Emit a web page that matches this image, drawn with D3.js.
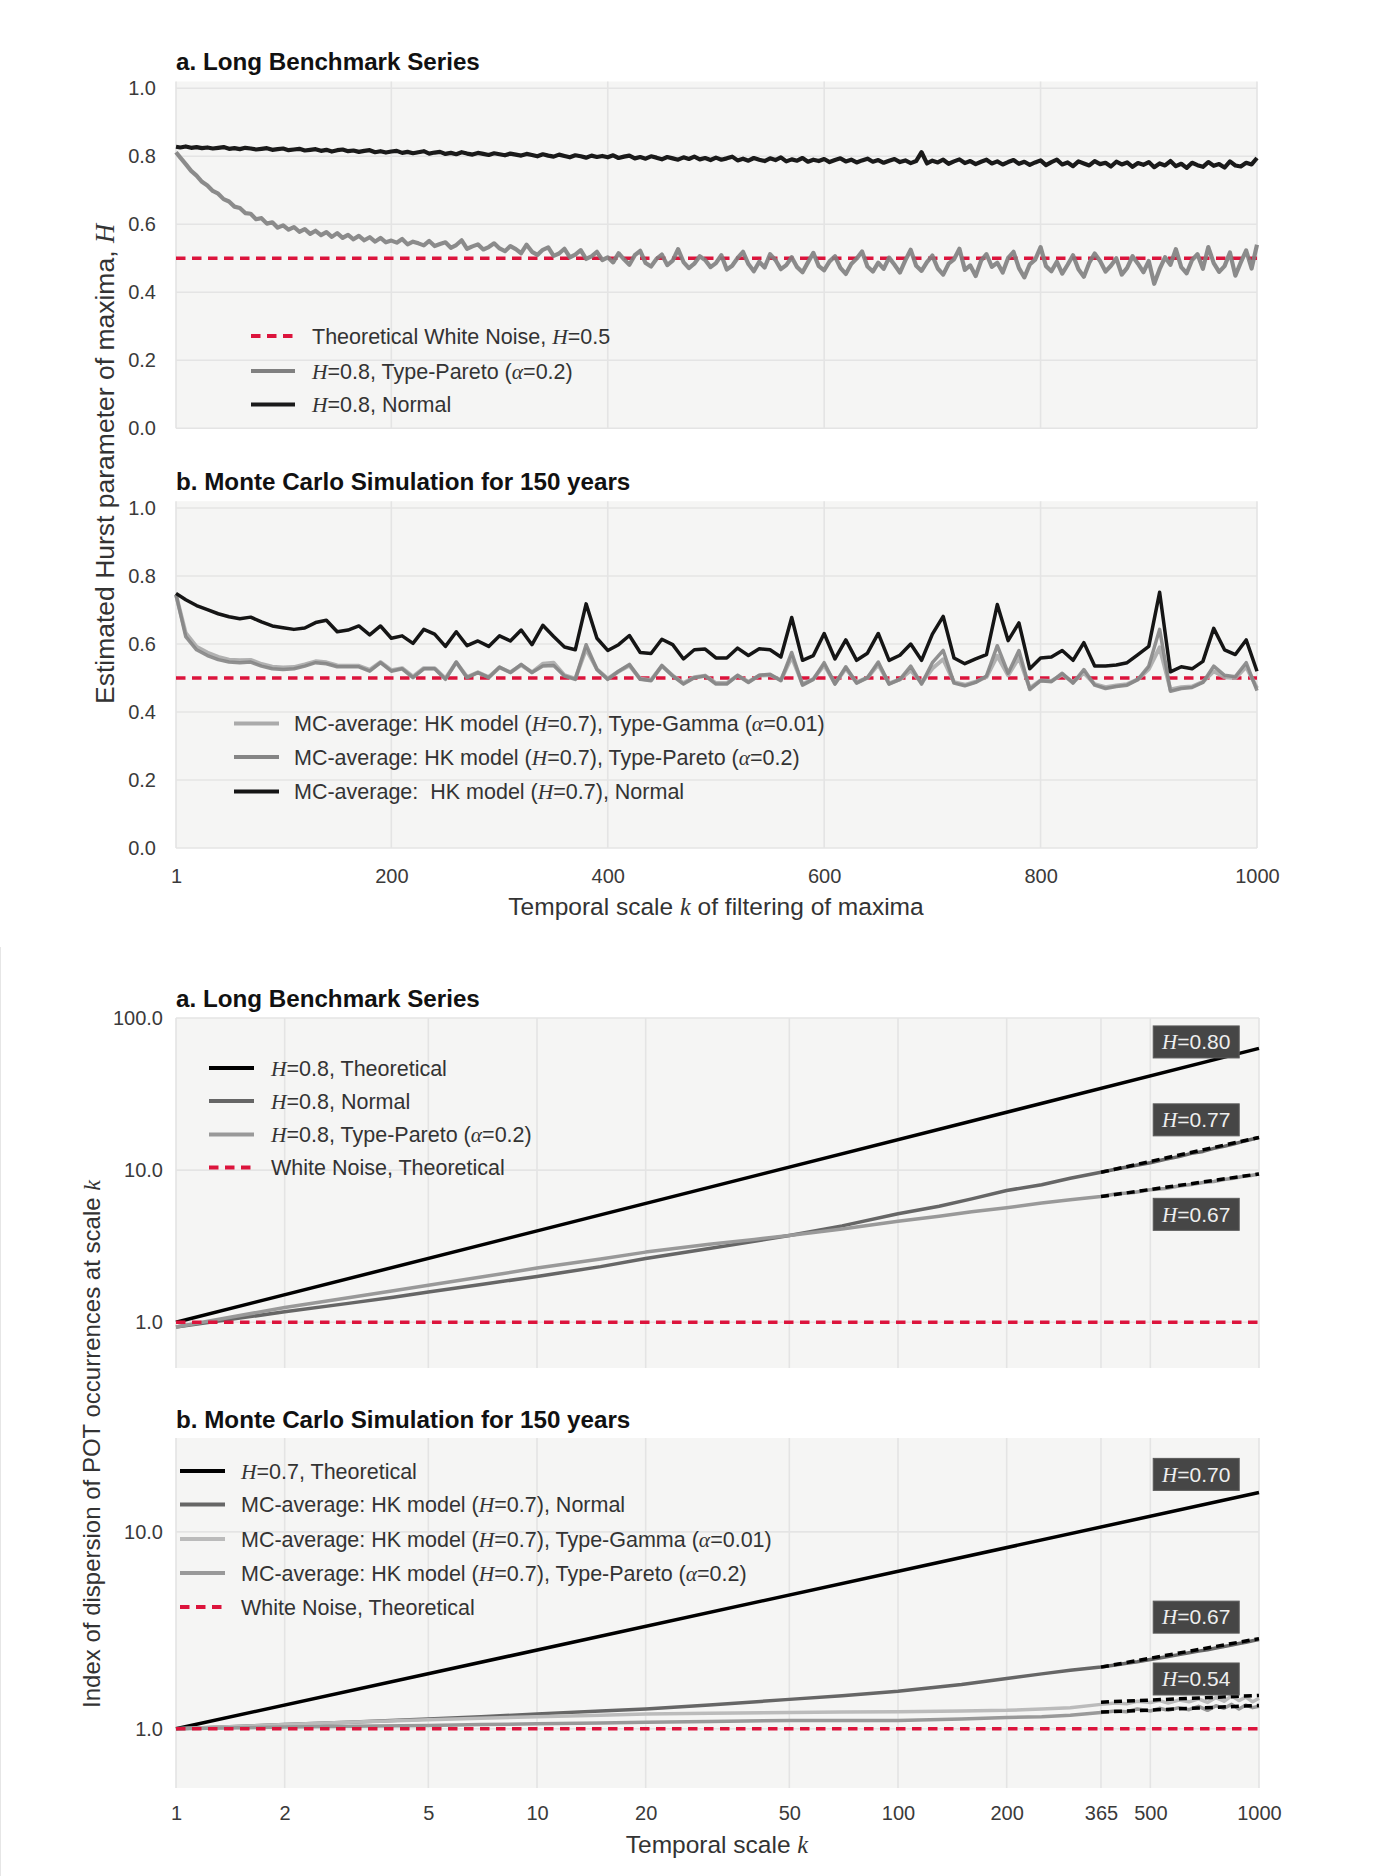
<!DOCTYPE html>
<html>
<head>
<meta charset="utf-8">
<script src="https://cdn.jsdelivr.net/npm/d3@7"></script>
<style>
  body { margin: 0; background: #ffffff; }
  text { font-family: "Liberation Sans", Arial, sans-serif; }
  .it { font-family: "Liberation Serif", "DejaVu Serif", serif; font-style: italic; }
</style>
</head>
<body>
<svg id="fig" width="1395" height="1876"></svg>
<script>
// ---------- Figure 1a: Hurst parameter of maxima, long benchmark series ----------
const kTopA = [1].concat(d3.range(5, 1001, 5));
const normalTopA = [
  0.828,0.826,0.829,0.825,0.827,0.824,0.826,0.823,0.825,0.827,0.822,0.824,0.821,0.825,0.823,0.820,0.822,0.824,0.819,0.821,
  0.823,0.818,0.820,0.822,0.817,0.819,0.821,0.816,0.819,0.814,0.818,0.820,0.815,0.817,0.813,0.816,0.818,0.812,0.815,0.811,
  0.814,0.816,0.810,0.813,0.809,0.812,0.815,0.808,0.811,0.813,0.807,0.810,0.806,0.812,0.808,0.805,0.810,0.807,0.804,0.809,
  0.806,0.803,0.808,0.805,0.802,0.807,0.804,0.800,0.806,0.802,0.799,0.805,0.801,0.797,0.803,0.800,0.796,0.802,0.798,0.801,
  0.797,0.803,0.795,0.799,0.802,0.794,0.798,0.793,0.800,0.796,0.791,0.798,0.794,0.790,0.797,0.792,0.799,0.791,0.795,0.789,
  0.796,0.790,0.794,0.799,0.788,0.793,0.787,0.795,0.790,0.786,0.794,0.789,0.797,0.785,0.791,0.787,0.795,0.784,0.790,0.786,
  0.792,0.783,0.789,0.794,0.785,0.790,0.782,0.788,0.793,0.784,0.789,0.781,0.787,0.792,0.783,0.788,0.780,0.786,0.812,0.779,
  0.787,0.782,0.790,0.778,0.785,0.791,0.780,0.786,0.777,0.784,0.790,0.779,0.785,0.776,0.783,0.789,0.778,0.784,0.775,0.782,
  0.788,0.774,0.783,0.790,0.776,0.782,0.771,0.785,0.779,0.773,0.786,0.777,0.781,0.770,0.784,0.776,0.782,0.769,0.780,0.775,
  0.783,0.768,0.779,0.773,0.786,0.771,0.778,0.766,0.781,0.774,0.769,0.783,0.772,0.777,0.767,0.785,0.773,0.770,0.781,0.776,
  0.795
];
const paretoTopA = [
  0.812,0.796,0.777,0.757,0.743,0.725,0.714,0.698,0.690,0.674,0.667,0.652,0.648,0.633,0.631,0.615,0.618,0.602,0.606,0.590,
  0.597,0.584,0.592,0.578,0.586,0.572,0.581,0.568,0.577,0.563,0.574,0.560,0.569,0.556,0.566,0.553,0.562,0.549,0.560,0.547,
  0.552,0.546,0.557,0.541,0.549,0.544,0.538,0.551,0.536,0.542,0.547,0.531,0.539,0.553,0.528,0.535,0.541,0.526,0.533,0.544,
  0.529,0.521,0.536,0.527,0.515,0.540,0.519,0.510,0.525,0.532,0.507,0.514,0.528,0.503,0.511,0.524,0.498,0.506,0.519,0.495,
  0.503,0.488,0.515,0.497,0.481,0.509,0.522,0.486,0.476,0.498,0.511,0.480,0.493,0.527,0.489,0.471,0.484,0.506,0.495,0.474,
  0.486,0.509,0.467,0.478,0.501,0.519,0.483,0.462,0.490,0.473,0.512,0.495,0.468,0.480,0.503,0.474,0.459,0.488,0.516,0.477,
  0.465,0.491,0.506,0.472,0.454,0.483,0.499,0.520,0.476,0.461,0.487,0.469,0.502,0.481,0.458,0.494,0.525,0.478,0.463,0.489,
  0.508,0.470,0.452,0.484,0.497,0.528,0.466,0.479,0.448,0.493,0.512,0.475,0.487,0.458,0.501,0.519,0.471,0.444,0.482,0.496,
  0.533,0.477,0.462,0.490,0.455,0.481,0.509,0.468,0.446,0.487,0.514,0.492,0.461,0.478,0.500,0.452,0.472,0.506,0.484,0.459,
  0.492,0.425,0.468,0.503,0.481,0.527,0.474,0.456,0.495,0.512,0.469,0.533,0.486,0.460,0.477,0.517,0.449,0.488,0.523,0.470,
  0.540
];
const whiteNoiseH = 0.5;

// ---------- Figure 1b: Monte Carlo averages, 150 years ----------
const kTopB = [1].concat(d3.range(10, 1001, 10));
const normalTopB = [
  0.749,0.730,0.713,0.701,0.689,0.680,0.674,0.679,0.665,0.653,
  0.648,0.643,0.647,0.663,0.670,0.636,0.641,0.653,0.627,0.653,
  0.617,0.624,0.602,0.643,0.629,0.593,0.636,0.595,0.609,0.593,
  0.624,0.609,0.641,0.598,0.655,0.622,0.591,0.583,0.718,0.617,
  0.581,0.598,0.625,0.575,0.572,0.614,0.598,0.556,0.583,0.585,
  0.559,0.559,0.588,0.566,0.586,0.583,0.562,0.678,0.552,0.566,
  0.631,0.556,0.612,0.552,0.573,0.631,0.552,0.567,0.600,0.552,
  0.629,0.681,0.559,0.542,0.556,0.569,0.716,0.610,0.662,0.527,
  0.559,0.562,0.581,0.552,0.604,0.535,0.535,0.538,0.545,0.569,
  0.593,0.752,0.518,0.533,0.527,0.549,0.646,0.583,0.569,0.612,
  0.520
];
const paretoTopB = [
  0.745,0.622,0.583,0.566,0.554,0.547,0.545,0.547,0.535,0.527,
  0.525,0.527,0.535,0.545,0.542,0.533,0.533,0.533,0.520,0.545,
  0.520,0.527,0.501,0.527,0.527,0.496,0.547,0.501,0.516,0.501,
  0.532,0.516,0.540,0.516,0.535,0.537,0.506,0.496,0.598,0.525,
  0.496,0.520,0.540,0.496,0.492,0.537,0.506,0.482,0.501,0.506,
  0.482,0.482,0.508,0.487,0.508,0.511,0.492,0.575,0.479,0.496,
  0.545,0.482,0.533,0.485,0.501,0.547,0.482,0.496,0.535,0.482,
  0.545,0.581,0.485,0.477,0.487,0.506,0.595,0.514,0.581,0.466,
  0.492,0.489,0.514,0.485,0.525,0.479,0.469,0.475,0.479,0.496,
  0.535,0.643,0.461,0.469,0.472,0.487,0.535,0.508,0.504,0.545,
  0.463
];
const gammaTopB = [
  0.745,0.632,0.592,0.575,0.562,0.554,0.552,0.553,0.541,0.533,
  0.531,0.532,0.540,0.549,0.546,0.537,0.536,0.536,0.524,0.547,
  0.523,0.529,0.504,0.529,0.529,0.499,0.546,0.503,0.517,0.503,
  0.531,0.517,0.538,0.517,0.542,0.545,0.508,0.498,0.585,0.526,
  0.498,0.519,0.537,0.498,0.494,0.535,0.507,0.485,0.502,0.507,
  0.485,0.485,0.507,0.489,0.507,0.509,0.494,0.562,0.482,0.497,
  0.538,0.484,0.528,0.487,0.501,0.540,0.484,0.496,0.522,0.486,
  0.528,0.555,0.488,0.480,0.489,0.503,0.565,0.508,0.560,0.470,
  0.493,0.491,0.510,0.488,0.515,0.482,0.473,0.478,0.482,0.496,
  0.526,0.590,0.466,0.473,0.475,0.489,0.520,0.502,0.500,0.533,
  0.470
];
const topXTicks = [1, 200, 400, 600, 800, 1000];
const topYTicks = [0, 0.2, 0.4, 0.6, 0.8, 1.0];

// ---------- Figure 2a: index of dispersion, long benchmark series ----------
const theoK = [1, 1000];
const theoBotA = [1.0, 63.1];          // H = 0.8
const kBotA = [1,2,3,4,5,7,10,15,20,30,40,50,70,100,130,160,200,250,300,365,400,450,500,550,600,650,700,750,800,850,900,950,1000];
const normalBotA = [0.93,1.17,1.33,1.46,1.58,1.77,2.00,2.32,2.62,3.05,3.40,3.72,4.30,5.16,5.78,6.47,7.34,8.02,8.83,9.67,10.12,10.68,11.17,11.78,12.26,12.88,13.27,13.90,14.32,14.84,15.38,15.88,16.40];
const paretoBotA = [0.93,1.25,1.45,1.61,1.75,1.98,2.27,2.60,2.89,3.25,3.50,3.72,4.10,4.61,4.98,5.32,5.65,6.07,6.38,6.70,6.97,7.12,7.42,7.58,7.87,8.03,8.28,8.42,8.68,8.83,9.08,9.22,9.44];
const fitK = [365, 1000];
const fitNormalBotA = [9.67, 16.4];    // H = 0.77
const fitParetoBotA = [6.70, 9.44];    // H = 0.67
const botAYTicks = [1, 10, 100];

// ---------- Figure 2b: index of dispersion, Monte Carlo ----------
const theoBotB = [1.0, 15.85];         // H = 0.7
const kBotB = [1,2,3,5,7,10,15,20,30,50,70,100,150,200,250,300,365,400,430,460,500,530,560,600,640,680,720,760,800,840,880,920,960,1000];
const normalBotB = [1.00,1.05,1.08,1.12,1.15,1.19,1.23,1.26,1.32,1.41,1.47,1.55,1.68,1.80,1.90,1.98,2.06,2.11,2.15,2.19,2.25,2.29,2.33,2.38,2.43,2.48,2.52,2.57,2.62,2.66,2.71,2.75,2.80,2.84];
const gammaBotB = [1.00,1.05,1.08,1.11,1.13,1.15,1.17,1.19,1.20,1.21,1.215,1.22,1.23,1.24,1.26,1.28,1.33,1.35,1.34,1.38,1.36,1.39,1.35,1.40,1.37,1.42,1.36,1.44,1.38,1.47,1.39,1.45,1.37,1.43];
const paretoBotB = [1.00,1.02,1.03,1.04,1.05,1.06,1.07,1.08,1.09,1.10,1.10,1.10,1.12,1.14,1.15,1.17,1.21,1.23,1.22,1.26,1.23,1.27,1.24,1.28,1.25,1.30,1.24,1.31,1.27,1.33,1.26,1.32,1.28,1.30];
const fitNormalBotB = [2.056, 2.87];   // H = 0.67
const fitGammaBotB = [1.365, 1.476];   // H = 0.54
const fitParetoBotB = [1.215, 1.313];  // H = 0.54
const botBYTicks = [1, 10];
const botXTicks = [1, 2, 5, 10, 20, 50, 100, 200, 365, 500, 1000];

// Slope labels: [k, value, text]
const labelsBotA = [[670, 69.6, "0.80"], [670, 21.4, "0.77"], [670, 5.12, "0.67"]];
const labelsBotB = [[670, 19.6, "0.70"], [670, 3.69, "0.67"], [670, 1.79, "0.54"]];

// ---------- drawing ----------
const svg = d3.select("#fig");
const RED = "#dc143c";
const BG = "#f5f5f4";
const GRID = "#e4e4e4";

function zip(ks, vs) { const n = Math.min(ks.length, vs.length); return d3.range(n).map(i => [ks[i], vs[i]]); }

function rich(sel, parts) {
  parts.forEach(p => {
    const t = sel.append("tspan").text(p[0]);
    if (p[1]) t.attr("class", "it");
  });
  return sel;
}

function frame(x, y, xTicks, yTicks, yFmt, ypad) {
  const [x0, x1] = x.range();
  const [y0, y1] = y.range();
  svg.append("rect").attr("x", x0).attr("y", y1).attr("width", x1 - x0).attr("height", y0 - y1).attr("fill", BG);
  const g = svg.append("g");
  g.selectAll(null).data(xTicks).enter().append("line")
    .attr("x1", d => x(d)).attr("x2", d => x(d)).attr("y1", y1).attr("y2", y0)
    .attr("stroke", GRID).attr("stroke-width", 1.6);
  g.selectAll(null).data(yTicks).enter().append("line")
    .attr("x1", x0).attr("x2", x1).attr("y1", d => y(d)).attr("y2", d => y(d))
    .attr("stroke", GRID).attr("stroke-width", 1.6);
  const ax = svg.append("g").attr("transform", `translate(${x0},0)`)
    .call(d3.axisLeft(y).tickValues(yTicks).tickFormat(yFmt).tickSize(0).tickPadding(ypad));
  ax.select(".domain").remove();
  ax.attr("font-size", 20).attr("font-family", '"Liberation Sans", Arial, sans-serif');
  ax.selectAll("text").attr("fill", "#3a3a3a");
}

function xAxis(x, yPos, ticks, pad) {
  const ax = svg.append("g").attr("transform", `translate(0,${yPos})`)
    .call(d3.axisBottom(x).tickValues(ticks).tickFormat(d3.format("d")).tickSize(0).tickPadding(pad));
  ax.select(".domain").remove();
  ax.attr("font-size", 20).attr("font-family", '"Liberation Sans", Arial, sans-serif');
  ax.selectAll("text").attr("fill", "#3a3a3a");
}

function path(x, y, data, color, width, opts = {}) {
  const line = d3.line().x(d => x(d[0])).y(d => y(d[1]));
  const p = svg.append("path").datum(data).attr("d", line)
    .attr("fill", "none").attr("stroke", color).attr("stroke-width", width)
    .attr("stroke-linejoin", "round");
  if (opts.dash) p.attr("stroke-dasharray", opts.dash);
  if (opts.opacity) p.attr("stroke-opacity", opts.opacity);
  return p;
}

function title(txt, yb) {
  svg.append("text").attr("x", 176).attr("y", yb).attr("font-size", 24.2).attr("font-weight", "bold")
    .attr("fill", "#111").text(txt);
}

function legend(x0, len, tx, rows) {
  rows.forEach(r => {
    const ln = svg.append("line").attr("x1", x0).attr("x2", x0 + len).attr("y1", r.y).attr("y2", r.y)
      .attr("stroke", r.color).attr("stroke-width", r.w || 4);
    if (r.dash) ln.attr("stroke-dasharray", r.dash);
    const t = svg.append("text").attr("x", tx).attr("y", r.y).attr("dy", "0.35em")
      .attr("font-size", 21.5).attr("fill", "#333").style("white-space", "pre");
    rich(t, r.parts);
  });
}

function slopeLabels(x, y, items) {
  items.forEach(([k, v, s]) => {
    const cx = x(k), cy = y(v);
    svg.append("rect").attr("x", cx - 43).attr("y", cy - 16).attr("width", 86).attr("height", 32)
      .attr("fill", "#464646").attr("stroke", "#5a5a5a").attr("stroke-width", 1);
    const t = svg.append("text").attr("x", cx).attr("y", cy).attr("dy", "0.35em")
      .attr("text-anchor", "middle").attr("font-size", 21).attr("fill", "#eeeeee");
    rich(t, [["H", 1], ["=" + s]]);
  });
}

const DASH = "9.5,6.5";
const FITDASH = "8,5";

// ===== Figure 1 =====
const xTop = d3.scaleLinear().domain([1, 1000]).range([176, 1257]);
const yTA = d3.scaleLinear().domain([0, 1.02]).range([428.3, 81.5]);
const yTB = d3.scaleLinear().domain([0, 1.02]).range([848, 501.2]);
const fmt1 = d3.format(".1f");

title("a. Long Benchmark Series", 70);
frame(xTop, yTA, topXTicks, topYTicks, fmt1, 20);
path(xTop, yTA, [[1, whiteNoiseH], [1000, whiteNoiseH]], RED, 3.5, { dash: DASH });
path(xTop, yTA, zip(kTopA, paretoTopA), "#808080", 4.2, { opacity: 0.9 });
path(xTop, yTA, zip(kTopA, normalTopA), "#1a1a1a", 4.2);
legend(251, 44, 312, [
  { y: 336, color: RED, dash: DASH, parts: [["Theoretical White Noise, "], ["H", 1], ["=0.5"]] },
  { y: 371, color: "#808080", parts: [["H", 1], ["=0.8, Type-Pareto ("], ["α", 1], ["=0.2)"]] },
  { y: 404.5, color: "#1a1a1a", parts: [["H", 1], ["=0.8, Normal"]] }
]);

title("b. Monte Carlo Simulation for 150 years", 490);
frame(xTop, yTB, topXTicks, topYTicks, fmt1, 20);
path(xTop, yTB, [[1, whiteNoiseH], [1000, whiteNoiseH]], RED, 3.5, { dash: DASH });
path(xTop, yTB, zip(kTopB, gammaTopB), "#aaaaaa", 4, { opacity: 0.9 });
path(xTop, yTB, zip(kTopB, paretoTopB), "#858585", 3.5, { opacity: 0.9 });
path(xTop, yTB, zip(kTopB, normalTopB), "#151515", 3.5);
legend(234, 45, 294, [
  { y: 723.5, color: "#aaaaaa", parts: [["MC-average: HK model ("], ["H", 1], ["=0.7), Type-Gamma ("], ["α", 1], ["=0.01)"]] },
  { y: 757, color: "#858585", parts: [["MC-average: HK model ("], ["H", 1], ["=0.7), Type-Pareto ("], ["α", 1], ["=0.2)"]] },
  { y: 791.5, color: "#151515", parts: [["MC-average:  HK model ("], ["H", 1], ["=0.7), Normal"]] }
]);
xAxis(xTop, 848, topXTicks, 21);

rich(svg.append("text").attr("x", 716).attr("y", 915).attr("text-anchor", "middle")
  .attr("font-size", 24.5).attr("fill", "#333"),
  [["Temporal scale "], ["k", 1], [" of filtering of maxima"]]);
rich(svg.append("text").attr("transform", "translate(114,464) rotate(-90)").attr("text-anchor", "middle")
  .attr("font-size", 26.5).attr("fill", "#333"),
  [["Estimated Hurst parameter of maxima, "], ["H", 1]]);

// faint frame edge of the second figure
svg.append("line").attr("x1", 0.5).attr("x2", 0.5).attr("y1", 947).attr("y2", 1876)
  .attr("stroke", "#e6e6e6").attr("stroke-width", 1);

// ===== Figure 2 =====
const xBot = d3.scaleLog().domain([1, 1000]).range([176, 1259]);
const yBA = d3.scaleLog().domain([0.5, 100]).range([1368, 1018]);
const yBB = d3.scaleLog().domain([0.5, 30]).range([1788, 1438]);

title("a. Long Benchmark Series", 1007);
frame(xBot, yBA, botXTicks, botAYTicks, fmt1, 13);
path(xBot, yBA, zip(theoK, theoBotA), "#000000", 3.5);
path(xBot, yBA, zip(kBotA, normalBotA), "#666666", 3.5);
path(xBot, yBA, zip(kBotA, paretoBotA), "#999999", 3.5);
path(xBot, yBA, zip(fitK, fitNormalBotA), "#000000", 3.5, { dash: FITDASH });
path(xBot, yBA, zip(fitK, fitParetoBotA), "#000000", 3.5, { dash: FITDASH });
path(xBot, yBA, [[1, 1], [1000, 1]], RED, 3.5, { dash: DASH });
slopeLabels(xBot, yBA, labelsBotA);
legend(209, 45, 271, [
  { y: 1068, color: "#000000", parts: [["H", 1], ["=0.8, Theoretical"]] },
  { y: 1101, color: "#666666", parts: [["H", 1], ["=0.8, Normal"]] },
  { y: 1134.5, color: "#999999", parts: [["H", 1], ["=0.8, Type-Pareto ("], ["α", 1], ["=0.2)"]] },
  { y: 1167.5, color: RED, dash: DASH, parts: [["White Noise, Theoretical"]] }
]);

title("b. Monte Carlo Simulation for 150 years", 1428);
frame(xBot, yBB, botXTicks, botBYTicks, fmt1, 13);
path(xBot, yBB, zip(theoK, theoBotB), "#000000", 3.5);
path(xBot, yBB, zip(kBotB, normalBotB), "#666666", 3.5);
path(xBot, yBB, zip(kBotB, gammaBotB), "#bbbbbb", 3.5);
path(xBot, yBB, zip(kBotB, paretoBotB), "#999999", 3.5);
path(xBot, yBB, zip(fitK, fitNormalBotB), "#000000", 3.5, { dash: FITDASH });
path(xBot, yBB, zip(fitK, fitGammaBotB), "#000000", 3.5, { dash: FITDASH });
path(xBot, yBB, zip(fitK, fitParetoBotB), "#000000", 3.5, { dash: FITDASH });
path(xBot, yBB, [[1, 1], [1000, 1]], RED, 3.5, { dash: DASH });
slopeLabels(xBot, yBB, labelsBotB);
legend(180, 45, 241, [
  { y: 1471, color: "#000000", parts: [["H", 1], ["=0.7, Theoretical"]] },
  { y: 1504.5, color: "#666666", parts: [["MC-average: HK model ("], ["H", 1], ["=0.7), Normal"]] },
  { y: 1539, color: "#bbbbbb", parts: [["MC-average: HK model ("], ["H", 1], ["=0.7), Type-Gamma ("], ["α", 1], ["=0.01)"]] },
  { y: 1573, color: "#999999", parts: [["MC-average: HK model ("], ["H", 1], ["=0.7), Type-Pareto ("], ["α", 1], ["=0.2)"]] },
  { y: 1607, color: RED, dash: DASH, parts: [["White Noise, Theoretical"]] }
]);
xAxis(xBot, 1788, botXTicks, 18);

rich(svg.append("text").attr("x", 717).attr("y", 1853).attr("text-anchor", "middle")
  .attr("font-size", 24.5).attr("fill", "#333"),
  [["Temporal scale "], ["k", 1]]);
rich(svg.append("text").attr("transform", "translate(100,1444) rotate(-90)").attr("text-anchor", "middle")
  .attr("font-size", 24).attr("fill", "#333"),
  [["Index of dispersion of POT occurrences at scale "], ["k", 1]]);
</script>
</body>
</html>
